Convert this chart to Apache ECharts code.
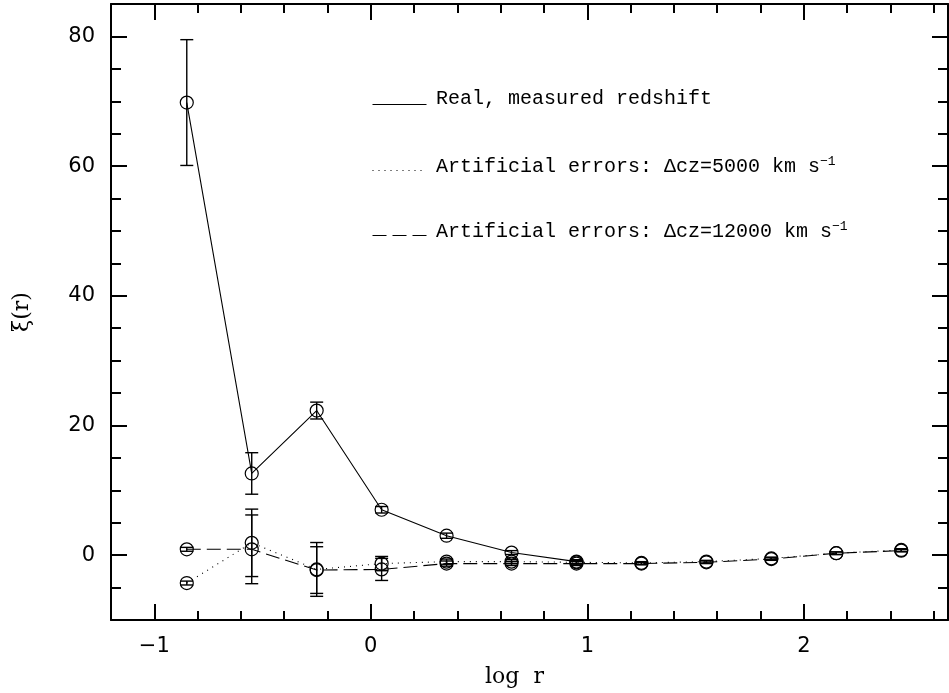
<!DOCTYPE html>
<html>
<head>
<meta charset="utf-8">
<script src="https://cdn.jsdelivr.net/npm/echarts@6/dist/echarts.min.js"></script>
<style>html,body{margin:0;padding:0;background:#fff}#c{width:949px;height:693px}</style>
</head>
<body>
<div id="c"></div>
<script>
// ---- data ----
const logR = [-0.85, -0.55, -0.25, 0.05, 0.35, 0.65, 0.95, 1.25, 1.55, 1.85, 2.15, 2.45];
const realXi = [69.8, 12.6, 22.3, 7.0, 3.0, 0.4, -1.0];
const realErr = [9.7, 3.2, 1.3, 0.5, 0.4, 0.3, 0.3];
const dz5000Xi = [-4.3, 1.9, -2.2, -1.3, -1.0, -1.0, -1.1, -1.2, -1.0, -0.5, 0.3, 0.8];
const dz5000Err = [0.3, 5.2, 4.15, 1.1, 0.4, 0.3, 0.3, 0.2, 0.2, 0.2, 0.2, 0.2];
const dz12000Xi = [0.9, 0.9, -2.3, -2.2, -1.3, -1.3, -1.3, -1.3, -1.1, -0.6, 0.3, 0.7];
const dz12000Err = [0.3, 5.3, 3.6, 1.7, 0.4, 0.3, 0.3, 0.2, 0.2, 0.2, 0.2, 0.2];
const xMajorTicks = [-1, 0, 1, 2];
const xMinorTicks = [-1.2, -1.0, -0.8, -0.6, -0.4, -0.2, 0, 0.2, 0.4, 0.6, 0.8, 1.0, 1.2, 1.4, 1.6, 1.8, 2.0, 2.2, 2.4, 2.6];
const yMajorTicks = [0, 20, 40, 60, 80];
const yMinorTicks = [-10, -5, 0, 5, 10, 15, 20, 25, 30, 35, 40, 45, 50, 55, 60, 65, 70, 75, 80, 85];
const names = ['Real, measured redshift', 'Artificial errors: \u0394cz=5000 km s', 'Artificial errors: \u0394cz=12000 km s'];

const XMIN = -1.2, XMAX = 2.666, YMIN = -10, YMAX = 85;
const tickFont = 'DejaVu Sans';
const txtFont = 'DejaVu Serif';
const legFont = 'Liberation Mono';

function pts(vals) { return vals.map((v, i) => [logR[i], v]); }
function errPts(vals, errs) { return vals.map((v, i) => [logR[i], v, errs[i]]); }

function xAxisDef(pos, major, showLine, showLabel) {
  return {
    type: 'value', position: pos, min: XMIN, max: XMAX,
    axisLine: { show: showLine, onZero: false, lineStyle: { color: '#000', width: 2 } },
    axisTick: { show: true, inside: true, customValues: major ? xMajorTicks : xMinorTicks,
      length: major ? 16 : 9, lineStyle: { color: '#000', width: 2 } },
    axisLabel: { show: showLabel, customValues: xMajorTicks, margin: 16,
      formatter: v => (v < 0 ? '\u2212' + Math.abs(v) : String(v)),
      color: '#000', fontFamily: tickFont, fontSize: 21 },
    splitLine: { show: false }
  };
}
function yAxisDef(pos, major, showLine, showLabel) {
  return {
    type: 'value', position: pos, min: YMIN, max: YMAX,
    axisLine: { show: showLine, onZero: false, lineStyle: { color: '#000', width: 2 } },
    axisTick: { show: true, inside: true, customValues: major ? yMajorTicks : yMinorTicks,
      length: major ? 16 : 10, lineStyle: { color: '#000', width: 2 } },
    axisLabel: { show: showLabel, customValues: yMajorTicks, margin: 16,
      color: '#000', fontFamily: tickFont, fontSize: 21 },
    splitLine: { show: false }
  };
}

function errSeries(name, vals, errs, color) {
  return {
    type: 'custom', name: name + ' err', xAxisIndex: 0, yAxisIndex: 0, silent: true, z: 2,
    data: errPts(vals, errs),
    renderItem: function (params, api) {
      const x = api.value(0), v = api.value(1), e = api.value(2);
      const t = api.coord([x, v + e]);
      const b = api.coord([x, v - e]);
      const hw = 6.5;
      const st = { stroke: color, lineWidth: 1.4, fill: null };
      return { type: 'group', children: [
        { type: 'line', shape: { x1: t[0], y1: t[1], x2: b[0], y2: b[1] }, style: st },
        { type: 'line', shape: { x1: t[0] - hw, y1: t[1], x2: t[0] + hw, y2: t[1] }, style: st },
        { type: 'line', shape: { x1: b[0] - hw, y1: b[1], x2: b[0] + hw, y2: b[1] }, style: st }
      ] };
    }
  };
}
function lineSeries(name, vals, lineType) {
  return {
    type: 'line', name: name, xAxisIndex: 0, yAxisIndex: 0, z: 3,
    data: pts(vals), symbol: 'circle', symbolSize: 13,
    itemStyle: { color: 'rgba(0,0,0,0)', borderColor: '#000', borderWidth: 1.2 },
    lineStyle: { color: '#000', width: 1.1, type: lineType },
    emphasis: { disabled: true }, animation: false
  };
}

const legendY = [102, 168, 233];
const legendTypes = ['solid', [1, 5], [14, 6]];
const graphic = [];
names.forEach((n, i) => {
  graphic.push({ type: 'line', left: 370, top: legendY[i],
    shape: { x1: 0, y1: 0, x2: 54, y2: 0 },
    style: { stroke: '#000', lineWidth: 1.1, lineDash: legendTypes[i] === 'solid' ? null : legendTypes[i] } });
  graphic.push({ type: 'text', left: 436, top: legendY[i] - 13,
    style: {
      text: i === 0 ? n : n + '{sup|\u22121}',
      font: '20px "' + legFont + '"', fill: '#000',
      rich: { sup: { fontSize: 13, fontFamily: legFont, verticalAlign: 'top', padding: [0, 0, 10, 0], fill: '#000' } }
    } });
});

const chart = echarts.init(document.getElementById('c'), null, { renderer: 'canvas' });
chart.setOption({
  animation: false,
  backgroundColor: '#fff',
  grid: { left: 111, top: 4, width: 837, height: 619, containLabel: false },
  xAxis: [
    Object.assign(xAxisDef('bottom', true, true, true), {
      name: 'log  r', nameLocation: 'middle', nameGap: 46,
      nameTextStyle: { color: '#000', fontFamily: txtFont, fontSize: 22, padding: [0, 30, 0, 0] } }),
    xAxisDef('bottom', false, false, false),
    xAxisDef('top', true, true, false),
    xAxisDef('top', false, false, false)
  ],
  yAxis: [
    Object.assign(yAxisDef('left', true, true, true), {
      name: '\u03BE(r)', nameLocation: 'middle', nameGap: 78, nameRotate: 90,
      nameTextStyle: { color: '#000', fontFamily: txtFont, fontSize: 22 } }),
    yAxisDef('left', false, false, false),
    yAxisDef('right', true, true, false),
    yAxisDef('right', false, false, false)
  ],
  graphic: graphic,
  series: [
    errSeries(names[0], realXi, realErr, '#000'),
    errSeries(names[1], dz5000Xi, dz5000Err, '#000'),
    errSeries(names[2], dz12000Xi, dz12000Err, '#000'),
    lineSeries(names[0], realXi, 'solid'),
    lineSeries(names[1], dz5000Xi, [1, 5]),
    lineSeries(names[2], dz12000Xi, [14, 6])
  ]
});
</script>
</body>
</html>
